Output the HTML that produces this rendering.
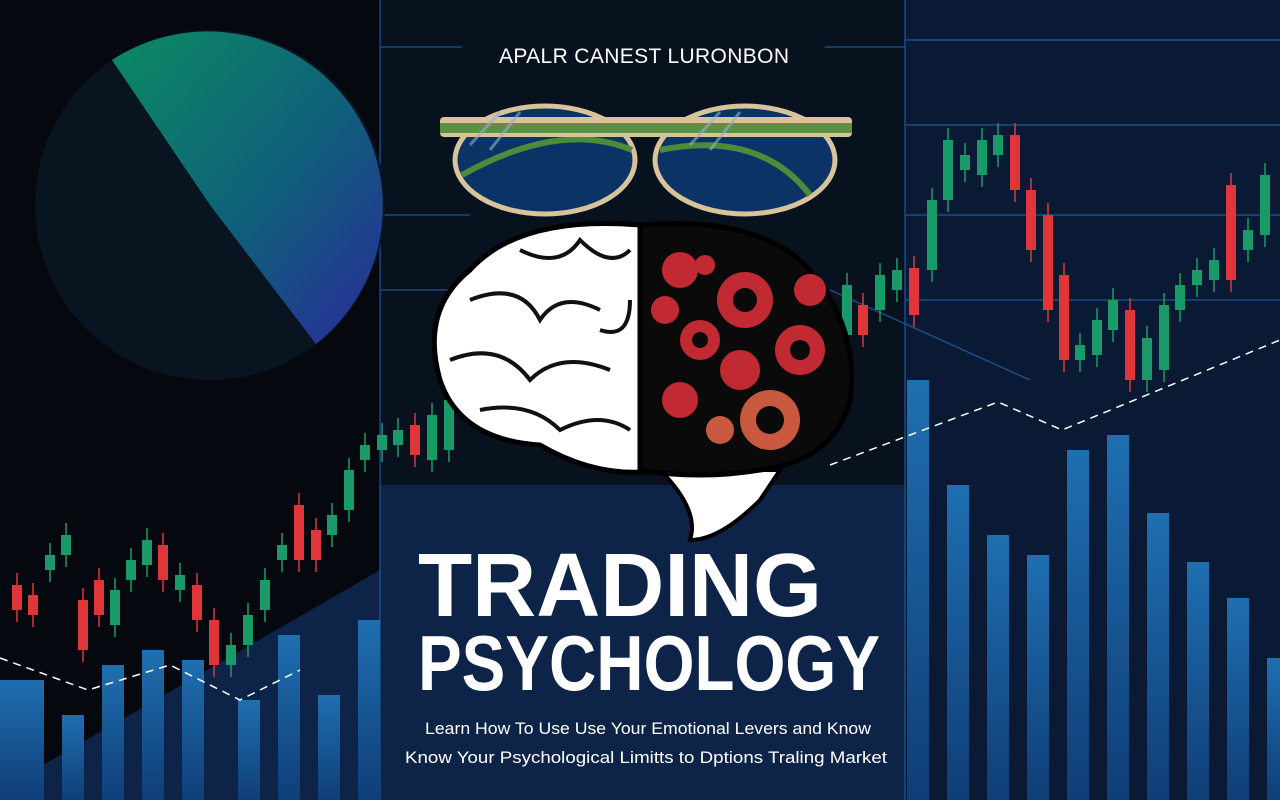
<!DOCTYPE html>
<html><head><meta charset="utf-8"><style>
html,body{margin:0;padding:0;background:#0b1b36;}
#wrap{position:relative;width:1280px;height:800px;overflow:hidden;}
svg{position:absolute;left:0;top:0;}
</style></head><body>
<div id="wrap">
<svg id="art" width="1280" height="800" viewBox="0 0 1280 800">
<defs>
<linearGradient id="pieg" x1="0" y1="0" x2="1" y2="1"><stop offset="0" stop-color="#0c8a62"/><stop offset="0.55" stop-color="#0f5f7a"/><stop offset="1" stop-color="#2a2a9a"/></linearGradient>
<linearGradient id="barg" x1="0" y1="0" x2="0" y2="1"><stop offset="0" stop-color="#1f6fb0"/><stop offset="1" stop-color="#0f3e78"/></linearGradient>
</defs>
<rect width="1280" height="800" fill="#0d2448"/>
<polygon points="0,0 380,0 380,570 0,790" fill="#05090f"/>
<rect x="380" y="0" width="525" height="485" fill="#08121f"/>
<rect x="905" y="0" width="375" height="800" fill="#0a1a35"/>
<g stroke="#1d5a9a" stroke-width="1.5" opacity="0.8">
<line x1="380" y1="0" x2="380" y2="800"/><line x1="905" y1="0" x2="905" y2="800"/>
<line x1="905" y1="40" x2="1280" y2="40"/><line x1="905" y1="125" x2="1280" y2="125"/><line x1="905" y1="215" x2="1280" y2="215"/><line x1="905" y1="300" x2="1280" y2="300"/>
<line x1="380" y1="47" x2="462" y2="47"/><line x1="825" y1="47" x2="905" y2="47"/>
<line x1="380" y1="215" x2="470" y2="215"/><line x1="380" y1="290" x2="460" y2="290"/>
<line x1="830" y1="290" x2="1030" y2="380"/>
</g>
<circle cx="210" cy="205" r="175" fill="#081420"/>
<path d="M210,205 L112,60 A175,175 0 0 1 316,344 Z" fill="url(#pieg)"/>
<g id="bars"></g>
<g id="candles"></g>
<polyline id="dashL" fill="none" stroke="#fff" stroke-width="1.5" stroke-dasharray="8,6"/>
<polyline id="dashR" fill="none" stroke="#fff" stroke-width="1.5" stroke-dasharray="8,6"/>
<text x="644" y="63" fill="#fff" font-family="Liberation Sans, sans-serif" font-size="21" text-anchor="middle" textLength="290" lengthAdjust="spacing">APALR CANEST LURONBON</text>
<g>
<ellipse cx="545" cy="160" rx="90" ry="54" fill="#0c3366" stroke="#d8c39a" stroke-width="5"/>
<ellipse cx="745" cy="160" rx="90" ry="54" fill="#0c3366" stroke="#d8c39a" stroke-width="5"/>
<path d="M462,175 Q560,120 632,150 M660,150 Q760,130 810,195" stroke="#4e8a3a" stroke-width="6" fill="none"/>
<rect x="440" y="117" width="412" height="20" rx="4" fill="#d8c39a"/>
<rect x="440" y="123" width="412" height="10" fill="#5f8f45"/>
<path d="M470,145 L500,112 M490,150 L520,112 M690,145 L720,112 M710,150 L740,112" stroke="#9ab0c8" stroke-width="3" opacity="0.6"/>
</g>
<g>
<path d="M760,500 Q720,540 690,540 Q700,510 660,470 L780,470 Z" fill="#fff" stroke="#000" stroke-width="4"/>
<path d="M640,225 Q520,215 470,270 Q420,310 440,380 Q460,440 540,445 Q600,480 660,470 L660,225 Z" fill="#fff" stroke="#000" stroke-width="5"/>
<path d="M640,225 Q760,215 810,270 Q860,330 850,400 Q835,460 760,470 Q700,480 640,470 Z" fill="#0a0a0a" stroke="#000" stroke-width="5"/>
<g fill="none" stroke="#111" stroke-width="4">
<path d="M470,300 Q520,280 540,320 Q560,290 600,310"/><path d="M450,360 Q500,340 530,380 Q560,350 610,370"/><path d="M520,250 Q560,270 580,240 Q610,270 630,250"/><path d="M480,410 Q530,400 560,430 Q600,410 630,430"/><path d="M600,330 Q630,340 630,300"/></g>
<g fill="#c22a33"><circle cx="680" cy="270" r="18"/><circle cx="745" cy="300" r="28"/><circle cx="700" cy="340" r="20"/><circle cx="800" cy="350" r="25"/><circle cx="740" cy="370" r="20"/><circle cx="680" cy="400" r="18"/><circle cx="770" cy="420" r="30" fill="#c8593f"/><circle cx="720" cy="430" r="14" fill="#c8593f"/><circle cx="810" cy="290" r="16"/><circle cx="665" cy="310" r="14"/><circle cx="705" cy="265" r="10"/></g>
<g fill="#0a0a0a"><circle cx="745" cy="300" r="12"/><circle cx="800" cy="350" r="10"/><circle cx="770" cy="420" r="14"/><circle cx="700" cy="340" r="8"/></g>
</g>
<text x="620" y="616" fill="#fff" font-family="Liberation Sans, sans-serif" font-weight="bold" font-size="90" text-anchor="middle" textLength="404" lengthAdjust="spacingAndGlyphs">TRADING</text>
<text x="649" y="690" fill="#fff" font-family="Liberation Sans, sans-serif" font-weight="bold" font-size="78" text-anchor="middle" textLength="462" lengthAdjust="spacingAndGlyphs">PSYCHOLOGY</text>
<text x="648" y="734" fill="#fff" font-family="Liberation Sans, sans-serif" font-size="17" text-anchor="middle" textLength="446" lengthAdjust="spacingAndGlyphs">Learn How To Use Use Your Emotional Levers and Know</text>
<text x="646" y="763" fill="#fff" font-family="Liberation Sans, sans-serif" font-size="17" text-anchor="middle" textLength="482" lengthAdjust="spacingAndGlyphs">Know Your Psychological Limitts to Dptions Traling Market</text>
</svg>
</div>
<script>
const leftCandleX = [17,33,50,66,83,99,115,131,147,163,180,197,214,231,248,265,282,299,316,332,349,365,382,398,415,432,449];
const leftOpen  = [215,205,230,245,200,220,175,220,235,255,210,215,180,135,155,190,240,295,270,265,290,340,350,355,375,340,350];
const leftClose = [190,185,245,265,150,185,210,240,260,220,225,180,135,155,185,220,255,240,240,285,330,355,365,370,345,385,400];
const rightCandleX = [847,863,880,897,914,932,948,965,982,998,1015,1031,1048,1064,1080,1097,1113,1130,1147,1164,1180,1197,1214,1231,1248,1265];
const rightOpen  = [465,495,490,510,532,530,600,630,625,645,665,610,585,525,440,445,470,490,420,430,490,515,520,615,550,565];
const rightClose = [515,465,525,530,485,600,660,645,660,665,610,550,490,440,455,480,500,420,462,495,515,530,540,520,570,625];
const barLeftX = [0,22,62,102,142,182,238,278,318,358];
const barLeftVal = [120,120,85,135,150,140,100,165,105,180];
const barRightX = [907,947,987,1027,1067,1107,1147,1187,1227,1267];
const barRightVal = [420,315,265,245,350,365,287,238,202,142];
const dashLeftX = [0,88,170,240,300];
const dashLeftVal = [142,110,135,100,130];
const dashRightX = [830,998,1062,1280];
const dashRightVal = [335,398,370,460];

const y = v => 800 - v;
const NS = 'http://www.w3.org/2000/svg';
const cg = document.getElementById('candles');
function drawCandles(xs, op, cl, side){
  xs.forEach((x,i)=>{
    const up = cl[i] >= op[i];
    const top = y(Math.max(op[i],cl[i])), bot = y(Math.min(op[i],cl[i]));
    const col = up ? '#1a9a68' : '#e0363a';
    const w = document.createElementNS(NS,'line');
    w.setAttribute('x1',x);w.setAttribute('x2',x);w.setAttribute('y1',top-12);w.setAttribute('y2',bot+12);
    w.setAttribute('stroke',col);w.setAttribute('stroke-width','1.5');
    
    
    cg.appendChild(w);
    const r = document.createElementNS(NS,'rect');
    r.setAttribute('x',x-5);r.setAttribute('y',top);r.setAttribute('width',10);r.setAttribute('height',Math.max(3,bot-top));
    r.setAttribute('fill',col);
    
    
    cg.appendChild(r);
  });
}
drawCandles(leftCandleX,leftOpen,leftClose,'left');
drawCandles(rightCandleX,rightOpen,rightClose,'right');
const bg = document.getElementById('bars');
function drawBars(xs, vals, side){
  xs.forEach((x,i)=>{
    const r = document.createElementNS(NS,'rect');
    r.setAttribute('x',x);r.setAttribute('y',y(vals[i]));r.setAttribute('width',22);r.setAttribute('height',vals[i]);
    r.setAttribute('fill','url(#barg)');
    
    
    bg.appendChild(r);
  });
}
drawBars(barLeftX,barLeftVal,'left');
drawBars(barRightX,barRightVal,'right');
document.getElementById('dashL').setAttribute('points', dashLeftX.map((x,i)=>x+','+y(dashLeftVal[i])).join(' '));
document.getElementById('dashR').setAttribute('points', dashRightX.map((x,i)=>x+','+y(dashRightVal[i])).join(' '));
</script>
</body></html>
